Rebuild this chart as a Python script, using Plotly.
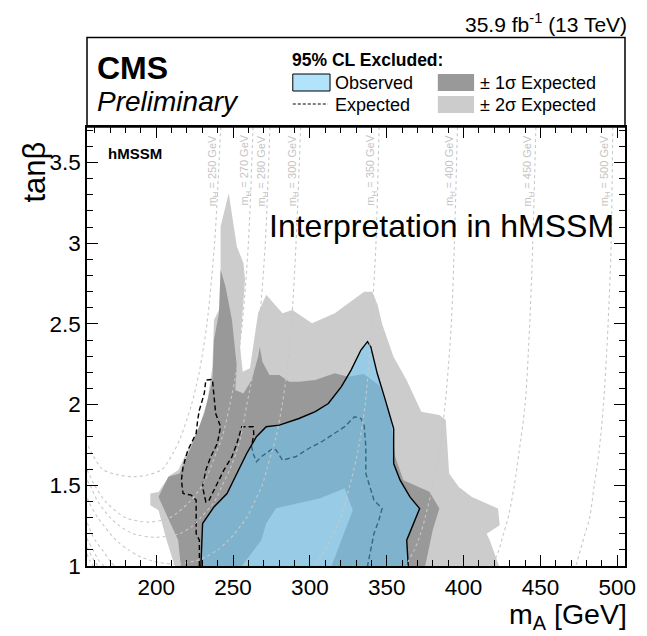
import plotly.graph_objects as go

# ---------------- data (m_A [GeV], tan beta) ----------------
# +-2 sigma expected exclusion (outer contour)
S2_MA = [212.1, 206.8, 201.5, 196.2, 196.2, 201.5, 209.0, 214.3, 220.6, 228.1, 233.4, 236.6,
         237.6, 241.9, 241.9, 247.2, 252.5, 256.8, 257.8, 254.6, 256.3, 261.0, 266.3, 271.6,
         282.2, 288.6, 301.4, 316.2, 335.3, 340.6, 344.0, 347.0, 354.4, 362.9, 372.5, 384.2,
         388.4, 390.6, 396.9, 405.4, 422.4, 423.5, 415.0, 417.0, 423.0]
S2_TB = [1.0, 1.16, 1.346, 1.377, 1.449, 1.459, 1.563, 1.594, 1.718, 1.863, 2.028, 2.235,
         2.524, 2.607, 3.103, 3.31, 2.979, 2.876, 2.773, 2.359, 2.204, 2.225, 2.566, 2.68,
         2.566, 2.586, 2.504, 2.566, 2.70, 2.70, 2.62, 2.50, 2.297, 2.152, 1.956, 1.935,
         1.904, 1.573, 1.49, 1.428, 1.356, 1.253, 1.20, 1.16, 1.0]

# +-1 sigma expected exclusion (outer contour)
S1_MA = [216.0, 214.3, 201.5, 207.9, 215.3, 222.8, 231.3, 236.6, 237.6, 240.8, 241.9, 245.1,
         249.3, 251.4, 252.5, 251.4, 256.8, 262.1, 266.3, 267.4, 269.1, 273.7, 280.1, 286.5,
         292.9, 303.5, 316.2, 324.7, 335.0, 345.0, 352.0, 355.5, 360.8, 377.8, 384.2, 379.9,
         375.0]
S1_TB = [1.0, 1.16, 1.428, 1.553, 1.573, 1.739, 1.945, 2.152, 2.40, 2.566, 2.835, 2.731,
         2.524, 2.359, 2.235, 2.09, 2.069, 2.152, 2.297, 2.359, 2.266, 2.183, 2.183, 2.142,
         2.142, 2.152, 2.194, 2.173, 2.19, 2.12, 1.95, 1.677, 1.532, 1.46, 1.356, 1.222,
         1.0]

# inner (-1 sigma) contour: region inside is only in the 2 sigma band
S1_IN_MA = [255.7, 268.4, 271.6, 278.0, 306.7, 322.6, 327.9, 314.1]
S1_IN_TB = [1.0, 1.16, 1.265, 1.358, 1.42, 1.482, 1.346, 1.0]

# expected exclusion contour
EXP_MA = [228.1, 228.1, 226.0, 226.0, 222.8, 217.5, 216.4, 217.5, 220.6, 226.0, 227.0, 228.1,
          231.3, 232.3, 236.6, 238.7, 241.9, 239.8, 235.5, 232.3, 230.2, 232.3, 234.4, 237.6,
          244.0, 249.3, 252.5, 255.7, 263.1, 263.5, 262.1, 263.1, 265.2, 268.4, 275.9, 278.0,
          282.2, 290.7, 299.2, 307.7, 316.2, 322.6, 329.0, 333.2, 335.3, 336.4, 336.4, 341.7,
          347.0, 344.9, 341.7, 337.5]
EXP_TB = [1.0, 1.16, 1.201, 1.408, 1.439, 1.449, 1.532, 1.615, 1.718, 1.821, 1.904, 1.966,
          2.069, 2.152, 2.156, 1.945, 1.863, 1.759, 1.677, 1.594, 1.491, 1.397, 1.408, 1.47,
          1.594, 1.677, 1.759, 1.863, 1.863, 1.821, 1.739, 1.697, 1.646, 1.677, 1.728, 1.718,
          1.656, 1.677, 1.728, 1.77, 1.821, 1.863, 1.925, 1.914, 1.873, 1.739, 1.573, 1.408,
          1.356, 1.284, 1.201, 1.0]

# observed exclusion contour
OBS_MA = [229.1, 230.2, 237.6, 246.1, 252.5, 258.9, 265.2, 271.6, 280.1, 292.9, 303.5, 312.0,
          320.5, 326.8, 333.2, 337.5, 339.6, 343.8, 349.1, 354.5, 354.5, 358.7, 365.1, 371.4,
          363.0, 364.0]
OBS_TB = [1.0, 1.263, 1.366, 1.449, 1.573, 1.697, 1.801, 1.863, 1.873, 1.914, 1.956, 2.007,
          2.111, 2.214, 2.338, 2.39, 2.359, 2.194, 2.028, 1.852, 1.635, 1.532, 1.428, 1.356,
          1.16, 1.0]

# m_H isolines in the hMSSM (upper branch, None, low-m_A branch)
MH_LEVELS = [250, 270, 280, 300, 350, 400, 450, 500]
MH250_MA = [242, 238, 233, 228, 223, 216, 211, 204, 195, 185, 175, 165, 158, 155]
MH250_TB = [3.72, 3.0, 2.5, 2.2, 2.0, 1.8, 1.7, 1.6, 1.565, 1.553, 1.565, 1.6, 1.7, 1.759]
MH270_MA = [263, 260, 256, 252, 248, 243, 239, 235, 230, 222, 209, 195, 180, 167, 160, 155]
MH270_TB = [3.72, 3.0, 2.5, 2.2, 2.0, 1.8, 1.7, 1.6, 1.5, 1.4, 1.3, 1.272, 1.3, 1.4, 1.5, 1.596]
MH280_MA = [274, 271, 267, 263, 259, 255, 252, 248, 243, 238, 229, 224, 215, 200, 185, 176,
            170, 162, 157, 155]
MH280_TB = [3.72, 3.0, 2.5, 2.2, 2.0, 1.8, 1.7, 1.6, 1.5, 1.4, 1.3, 1.25, 1.2, 1.178, 1.2, 1.25,
            1.3, 1.4, 1.5, 1.532]
MH300_MA = [294, 291, 288, 285, 282, 278, 275, 272, 269, 264, 259, 255, 251, 246, 240, 233, 225,
            211, 198, 189, 182, 175, 170, 166, 162, 156, 155]
MH300_TB = [3.72, 3.0, 2.5, 2.2, 2.0, 1.8, 1.7, 1.6, 1.5, 1.4, 1.3, 1.25, 1.2, 1.15, 1.1, 1.06, 1.03,
            1.012, 1.03, 1.06, 1.1, 1.15, 1.2, 1.25, 1.3, 1.4, 1.43]
MH350_MA = [345, 343, 340, 336, 331, 326, 320, 315, 310, 305, 302, None,
            155, 156, 158, 161, 165, 170, 173]
MH350_TB = [3.72, 3.0, 2.5, 2.0, 1.7, 1.5, 1.3, 1.2, 1.1, 1.03, 1.0, None,
            1.266, 1.25, 1.2, 1.15, 1.1, 1.03, 1.0]
MH400_MA = [396, 394, 392, 388, 384, 380, 375, 372, 368, 364, 363, None,
            155, 156, 159, 161, 163, 166]
MH400_TB = [3.72, 3.0, 2.5, 2.0, 1.7, 1.5, 1.3, 1.2, 1.1, 1.03, 1.0, None,
            1.172, 1.15, 1.1, 1.06, 1.03, 1.0]
MH450_MA = [447, 445, 443, 440, 436, 433, 429, 426, 423, 420, 419, None,
            155, 156, 158, 160, 162]
MH450_TB = [3.72, 3.0, 2.5, 2.0, 1.7, 1.5, 1.3, 1.2, 1.1, 1.03, 1.0, None,
            1.114, 1.1, 1.06, 1.03, 1.0]
MH500_MA = [497, 496, 494, 491, 488, 485, 482, 479, 476, 474, 473, None, 155, 157, 159]
MH500_TB = [3.72, 3.0, 2.5, 2.0, 1.7, 1.5, 1.3, 1.2, 1.1, 1.03, 1.0, None, 1.075, 1.03, 1.0]
MH_CURVES = [(MH250_MA, MH250_TB), (MH270_MA, MH270_TB), (MH280_MA, MH280_TB),
             (MH300_MA, MH300_TB), (MH350_MA, MH350_TB), (MH400_MA, MH400_TB),
             (MH450_MA, MH450_TB), (MH500_MA, MH500_TB)]

X_RANGE = [155, 505]
Y_RANGE = [1.0, 3.72]

# ---------------- style ----------------
FONT = "Liberation Sans, Arial, Helvetica, sans-serif"
C_2S = "#cccccc"
C_1S = "#999999"
C_OBS = "rgba(102,202,253,0.51)"
C_OBS_LEG = "rgb(177,228,250)"
C_MH = "rgb(200,200,200)"

fig = go.Figure()


def band(xs, ys, color):
    fig.add_trace(go.Scatter(x=xs, y=ys, mode="lines", fill="toself", fillcolor=color,
                             line=dict(width=0, color=color), hoverinfo="skip"))


band(S2_MA, S2_TB, C_2S)
band(S1_MA, S1_TB, C_1S)
band(S1_IN_MA, S1_IN_TB, C_2S)

fig.add_trace(go.Scatter(x=EXP_MA, y=EXP_TB, mode="lines",
                         line=dict(color="black", width=1.4, dash="5px,3px"), hoverinfo="skip"))

fig.add_trace(go.Scatter(x=OBS_MA, y=OBS_TB, mode="lines", fill="toself", fillcolor=C_OBS,
                         line=dict(color="black", width=1.4), hoverinfo="skip"))

for (xs, ys) in MH_CURVES:
    fig.add_trace(go.Scatter(x=xs, y=ys, mode="lines", connectgaps=False,
                             line=dict(color=C_MH, width=1.1, dash="dot", shape="spline",
                                       smoothing=0.8), hoverinfo="skip"))

annotations = []
for lev, (xs, ys) in zip(MH_LEVELS, MH_CURVES):
    annotations.append(dict(x=xs[0], y=3.45, xref="x", yref="y", text=f"m<sub>H</sub> = {lev} GeV",
                            textangle=-90, showarrow=False, xanchor="center", yanchor="middle",
                            xshift=-8, font=dict(family=FONT, size=11, color="#c4c4c4")))


def ptext(x, y, text, size, xanchor="left", yanchor="middle", bold=False, italic=False,
          angle=0):
    t = text
    if bold:
        t = f"<b>{t}</b>"
    if italic:
        t = f"<i>{t}</i>"
    annotations.append(dict(x=x, y=y, xref="paper", yref="paper", text=t, showarrow=False,
                            xanchor=xanchor, yanchor=yanchor, textangle=angle,
                            font=dict(family=FONT, size=size, color="black")))


W, H, L, T = 549.0, 439.0, 87.0, 127.0


def px(xp):
    return (xp - L) / W


def py(yp):
    return (T + H - yp) / H


ptext(px(640), py(23), "35.9 fb<sup>-1</sup> (13 TeV)", 21, xanchor="right")
ptext(px(95), py(68), "CMS", 32, bold=True)
ptext(px(95), py(101), "Preliminary", 28, italic=True)
ptext(px(294), py(60), "95% CL Excluded:", 17.5, bold=True)
ptext(px(338), py(83), "Observed", 18)
ptext(px(338), py(105), "Expected", 18)
ptext(px(486), py(83), "± 1σ Expected", 18)
ptext(px(486), py(105), "± 2σ Expected", 18)
ptext(px(106), py(153), "hMSSM", 15, bold=True)
ptext(px(271), py(226), "Interpretation in hMSSM", 32)
ptext(px(640), py(636), "m<sub>A</sub> [GeV]", 28.5, xanchor="right", yanchor="bottom")
ptext(px(33), py(140), "tanβ", 31, xanchor="center", yanchor="top", angle=-90)

shapes = [
    dict(type="rect", xref="paper", yref="paper", x0=0, x1=1, y0=1, y1=py(37.5),
         line=dict(color="black", width=1.5), fillcolor="rgba(0,0,0,0)"),
    dict(type="rect", xref="paper", yref="paper", x0=px(297), x1=px(335), y0=py(91), y1=py(74),
         line=dict(color="black", width=1), fillcolor=C_OBS_LEG),
    dict(type="line", xref="paper", yref="paper", x0=px(297), x1=px(333), y0=py(104), y1=py(104),
         line=dict(color="black", width=1, dash="3px,2px")),
    dict(type="rect", xref="paper", yref="paper", x0=px(445), x1=px(482), y0=py(91), y1=py(74),
         line=dict(width=0), fillcolor=C_1S),
    dict(type="rect", xref="paper", yref="paper", x0=px(445), x1=px(482), y0=py(113), y1=py(96),
         line=dict(width=0), fillcolor=C_2S),
]

axis_common = dict(showline=True, linecolor="black", linewidth=1.5, mirror="allticks",
                   ticks="inside", ticklen=11, tickwidth=1.3, tickcolor="black",
                   showgrid=False, zeroline=False,
                   tickfont=dict(family=FONT, size=22.5, color="black"))

fig.update_layout(
    width=647, height=636,
    margin=dict(l=87, r=11, t=127, b=70),
    paper_bgcolor="white", plot_bgcolor="white",
    showlegend=False,
    font=dict(family=FONT, color="black"),
    xaxis=dict(range=X_RANGE, tickmode="linear", tick0=200, dtick=50,
               minor=dict(ticks="inside", ticklen=6, tickwidth=1, tickcolor="black",
                          tick0=150, dtick=10, showgrid=False),
               **axis_common),
    yaxis=dict(range=Y_RANGE, tickmode="linear", tick0=1, dtick=0.5,
               minor=dict(ticks="inside", ticklen=6, tickwidth=1, tickcolor="black",
                          tick0=1, dtick=0.1, showgrid=False),
               **axis_common),
    annotations=annotations,
    shapes=shapes,
)

fig.write_html("out.html")
